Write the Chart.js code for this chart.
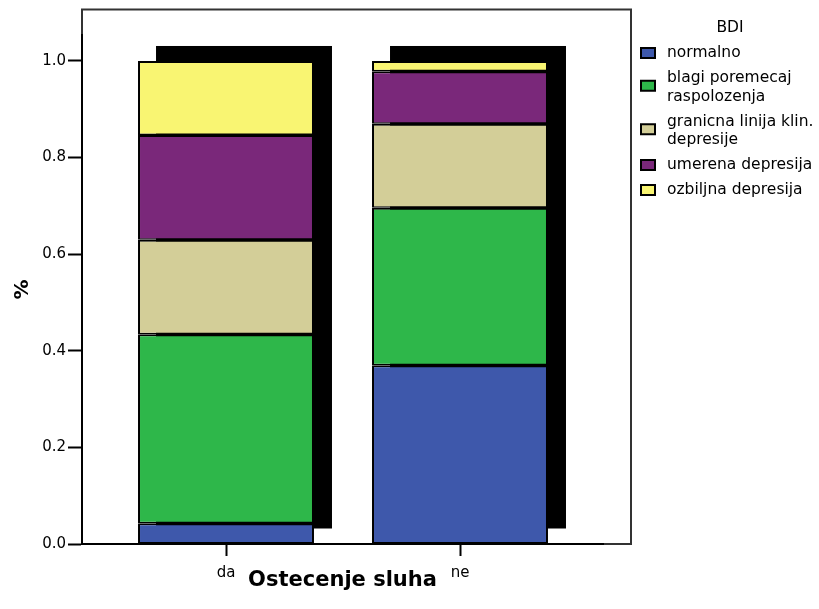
<!DOCTYPE html>
<html><head><meta charset="utf-8">
<script src="https://cdn.jsdelivr.net/npm/chart.js@4.4.0/dist/chart.umd.min.js"></script>
<style>html,body{margin:0;padding:0;background:#fff;}canvas{display:block;}</style>
</head><body>
<canvas id="c" width="819" height="609"></canvas>
<script>
// ---- data ----
const categories = ['da', 'ne'];
const seriesNames = ['normalno', 'blagi poremecaj raspolozenja', 'granicna linija klin. depresije', 'umerena depresija', 'ozbiljna depresija'];
const legendLines = [['normalno'], ['blagi poremecaj', 'raspolozenja'], ['granicna linija klin.', 'depresije'], ['umerena depresija'], ['ozbiljna depresija']];
const normalno = [0.043, 0.370];
const blagi = [0.391, 0.326];
const granicna = [0.196, 0.174];
const umerena = [0.217, 0.109];
const ozbiljna = [0.153, 0.021];
const yTicks = [0, 0.2, 0.4, 0.6, 0.8, 1.0];
const legendTitle = 'BDI';
const xTitle = 'Ostecenje sluha';
const yTitle = '%';

const seriesValues = [normalno, blagi, granicna, umerena, ozbiljna];
const colors = ['#3e58ab', '#2eb74a', '#d3ce98', '#7a287a', '#f9f572'];
const FONT = "'DejaVu Sans', sans-serif";

const framePlugin = {
  id: 'frame',
  beforeDraw(chart) {
    const ctx = chart.ctx, a = chart.chartArea;
    ctx.save();
    ctx.strokeStyle = '#333';
    ctx.lineWidth = 2;
    ctx.strokeRect(a.left, 9.5, 631 - a.left, a.bottom - 9.5);
    ctx.restore();
  }
};

const shadowPlugin = {
  id: 'shadow',
  beforeDatasetsDraw(chart) {
    const ctx = chart.ctx;
    const n = chart.data.datasets.length;
    const first = chart.getDatasetMeta(0), last = chart.getDatasetMeta(n - 1);
    ctx.save();
    ctx.fillStyle = '#000';
    first.data.forEach((bar, i) => {
      const top = last.data[i].y;
      const w = bar.width;
      ctx.fillRect(bar.x - w / 2 + 18, top - 15, w, bar.base - top);
    });
    ctx.restore();
  }
};

const legendPlugin = {
  id: 'bdiLegend',
  afterDraw(chart) {
    const ctx = chart.ctx;
    ctx.save();
    ctx.font = '15.5px ' + FONT;
    ctx.fillStyle = '#000';
    ctx.textAlign = 'center';
    ctx.textBaseline = 'middle';
    ctx.fillText(legendTitle, 730, 28);
    ctx.textAlign = 'left';
    let y = 53;
    chart.data.datasets.forEach((ds, i) => {
      if (i > 0) y += 25;
      const ys = [];
      legendLines[i].forEach((ln, k) => {
        if (k > 0) y += 18.5;
        ys.push(y);
        ctx.fillStyle = '#000';
        ctx.fillText(ln, 667, y);
      });
      const mid = (ys[0] + ys[ys.length - 1]) / 2 - (ys.length > 1 ? 1.5 : 0);
      ctx.fillStyle = '#000';
      ctx.fillRect(640, mid - 6, 16, 12);
      ctx.fillStyle = ds.backgroundColor;
      ctx.fillRect(642, mid - 4, 12, 8);
    });
    ctx.restore();
  }
};

new Chart(document.getElementById('c'), {
  type: 'bar',
  data: {
    datasets: seriesValues.map((vals, s) => ({
      label: seriesNames[s],
      data: vals.map((v, i) => ({ x: i, y: v })),
      backgroundColor: colors[s],
      borderColor: '#000',
      borderWidth: { left: 2, right: 2, top: 2, bottom: 1.5 },
      borderSkipped: false,
      categoryPercentage: 1,
      barPercentage: 0.752
    }))
  },
  options: {
    responsive: false,
    animation: false,
    layout: { padding: { left: 0, top: 35, right: 216, bottom: 0 } },
    plugins: { legend: { display: false }, tooltip: { enabled: false } },
    scales: {
      x: {
        type: 'linear',
        stacked: true,
        min: -0.6154,
        max: 1.6111,
        offset: false,
        afterFit(scale) { scale.height = 65; },
        afterBuildTicks(scale) { scale.ticks = categories.map((c, i) => ({ value: i })); },
        grid: { display: true, drawOnChartArea: false, offset: false, tickLength: 12, tickWidth: 2, tickColor: '#000' },
        border: { display: true, color: '#000', width: 2 },
        ticks: {
          autoSkip: false, maxRotation: 0, padding: 8, color: '#000',
          font: { family: FONT, size: 15 },
          callback: (v) => categories[v]
        },
        title: { display: true, text: xTitle, color: '#000', font: { family: FONT, size: 21, weight: 'bold' }, padding: { top: 0, bottom: 16 } }
      },
      y: {
        stacked: true,
        min: 0,
        max: 1.0538,
        afterFit(scale) { scale.width = 82; },
        afterBuildTicks(scale) { scale.ticks = yTicks.map(v => ({ value: v })); },
        grid: { display: true, drawOnChartArea: false, tickLength: 14, tickWidth: 2, tickColor: '#000' },
        border: { display: true, color: '#000', width: 2 },
        ticks: { padding: 2, color: '#000', font: { family: FONT, size: 15 }, callback: (v) => Number(v).toFixed(1) },
        title: { display: true, text: yTitle, color: '#000', font: { family: FONT, size: 20, weight: 'bold' }, padding: { top: 11, bottom: 0 } }
      }
    }
  },
  plugins: [framePlugin, shadowPlugin, legendPlugin]
});
</script>
</body></html>
